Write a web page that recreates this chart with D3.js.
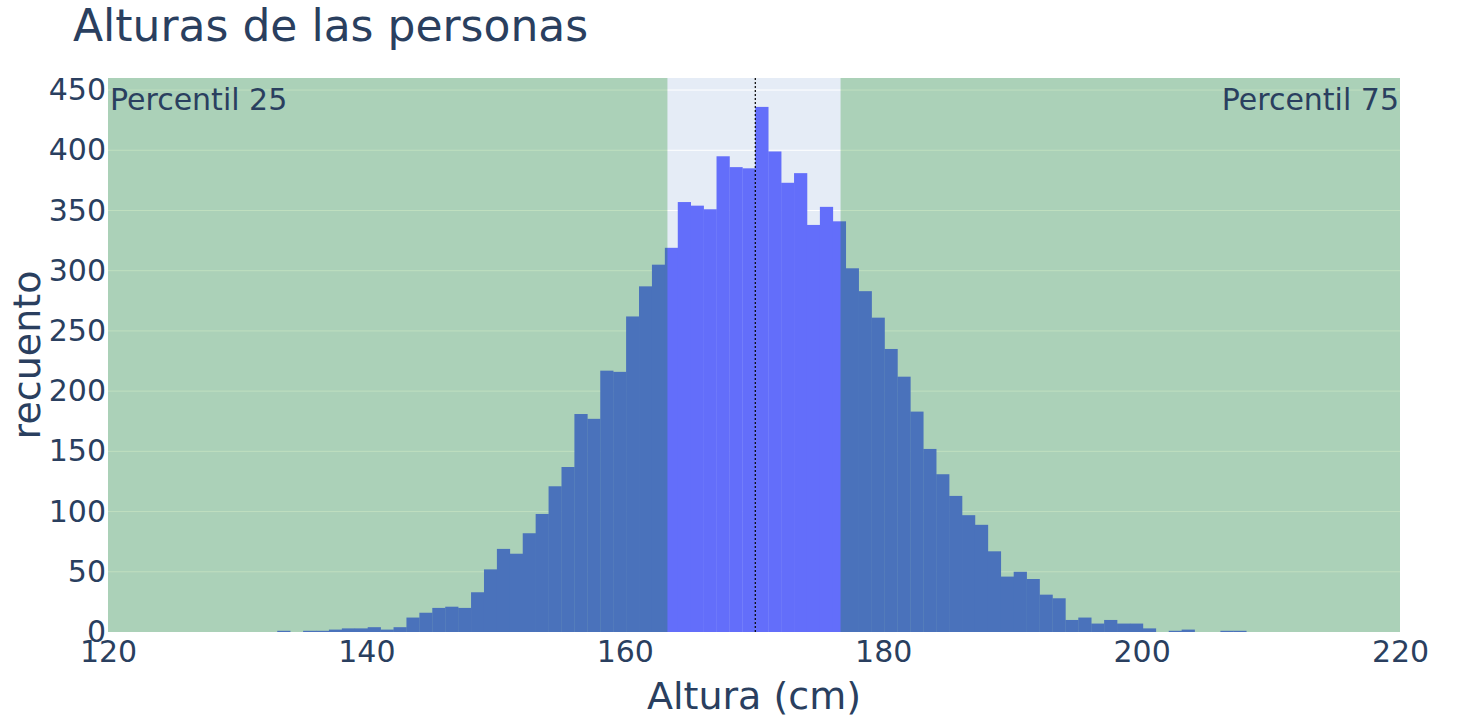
<!DOCTYPE html>
<html><head><meta charset="utf-8">
<script src="https://cdn.jsdelivr.net/npm/d3@7/dist/d3.min.js"></script>
<style>body{margin:0;background:#fff}</style></head>
<body><svg id="c" width="1464" height="720"></svg>
<script>
const binStart = 133.1;
const binWidth = 1;
const counts = [1,0,1,1,2,3,3,4,2,4,12,16,20,21,20,33,52,69,65,82,98,121,137,181,177,217,216,262,287,305,319,357,354,351,395,386,385,436,399,373,381,338,353,341,302,283,261,235,212,183,152,131,113,97,89,67,46,50,44,31,28,10,12,7,10,7,7,3,0,1,2,0,0,1,1];
const xTicks = [120,140,160,180,200,220];
const yTicks = [0,50,100,150,200,250,300,350,400,450];
const p25 = 163.3, p75 = 176.7, meanVal = 170.1;
const title = "Alturas de las personas", xTitle = "Altura (cm)", yTitle = "recuento";
const ann = ["Percentil 25","Percentil 75"];

const svg = d3.select("#c");
const font = "'DejaVu Sans', sans-serif", ink = "#2a3f5f";
const L=108,R=1400,T=78,B=632;
const x = d3.scaleLinear().domain([120,220]).range([L,R]);
const y = d3.scaleLinear().domain([0,460]).range([B,T]);
svg.append("rect").attr("x",L).attr("y",T).attr("width",R-L).attr("height",B-T).attr("fill","#E5ECF6");
svg.append("g").selectAll("line").data(yTicks.slice(1)).join("line")
 .attr("x1",L).attr("x2",R).attr("y1",d=>y(d)).attr("y2",d=>y(d)).attr("stroke","#fff").attr("stroke-width",1);
const bins = counts.map((c,i)=>({x0:binStart+i*binWidth,x1:binStart+(i+1)*binWidth,c}));
svg.append("g").selectAll("rect").data(bins.filter(b=>b.c>0)).join("rect")
 .attr("x",d=>x(d.x0)).attr("width",d=>x(d.x1)-x(d.x0)+0.3)
 .attr("y",d=>y(d.c)).attr("height",d=>B-y(d.c)).attr("fill","#636efa");
[[120,p25],[p75,220]].forEach(([a,b])=>svg.append("rect").attr("x",x(a)).attr("width",x(b)-x(a))
 .attr("y",T).attr("height",B-T).attr("fill","green").attr("opacity",0.25));
svg.append("line").attr("x1",x(meanVal)).attr("x2",x(meanVal)).attr("y1",T).attr("y2",B)
 .attr("stroke","#000").attr("stroke-width",1.2).attr("stroke-dasharray","2,2");
svg.append("text").attr("x",L+2).attr("y",110).text(ann[0]).attr("font-family",font).attr("font-size",30).attr("fill",ink);
svg.append("text").attr("x",R-1).attr("y",110).attr("text-anchor","end").text(ann[1]).attr("font-family",font).attr("font-size",30).attr("fill",ink);
const xa = svg.append("g").attr("transform",`translate(0,${B})`).call(d3.axisBottom(x).tickValues(xTicks).tickSize(0).tickPadding(8));
const ya = svg.append("g").attr("transform",`translate(${L},0)`).call(d3.axisLeft(y).tickValues(yTicks).tickSize(0).tickPadding(2));
[xa,ya].forEach(a=>{a.select(".domain").remove();a.selectAll("text").attr("font-family",font).attr("font-size",30).attr("fill",ink);});
xa.selectAll("text").attr("dy","0.72em");
svg.append("text").attr("x",73).attr("y",41).text(title).attr("font-family",font).attr("font-size",44).attr("fill",ink);
svg.append("text").attr("x",(L+R)/2).attr("y",709).attr("text-anchor","middle").text(xTitle).attr("font-family",font).attr("font-size",38).attr("fill",ink);
svg.append("text").attr("transform",`translate(40,${(T+B)/2}) rotate(-90)`).attr("text-anchor","middle").text(yTitle).attr("font-family",font).attr("font-size",38).attr("fill",ink);
</script></body></html>
